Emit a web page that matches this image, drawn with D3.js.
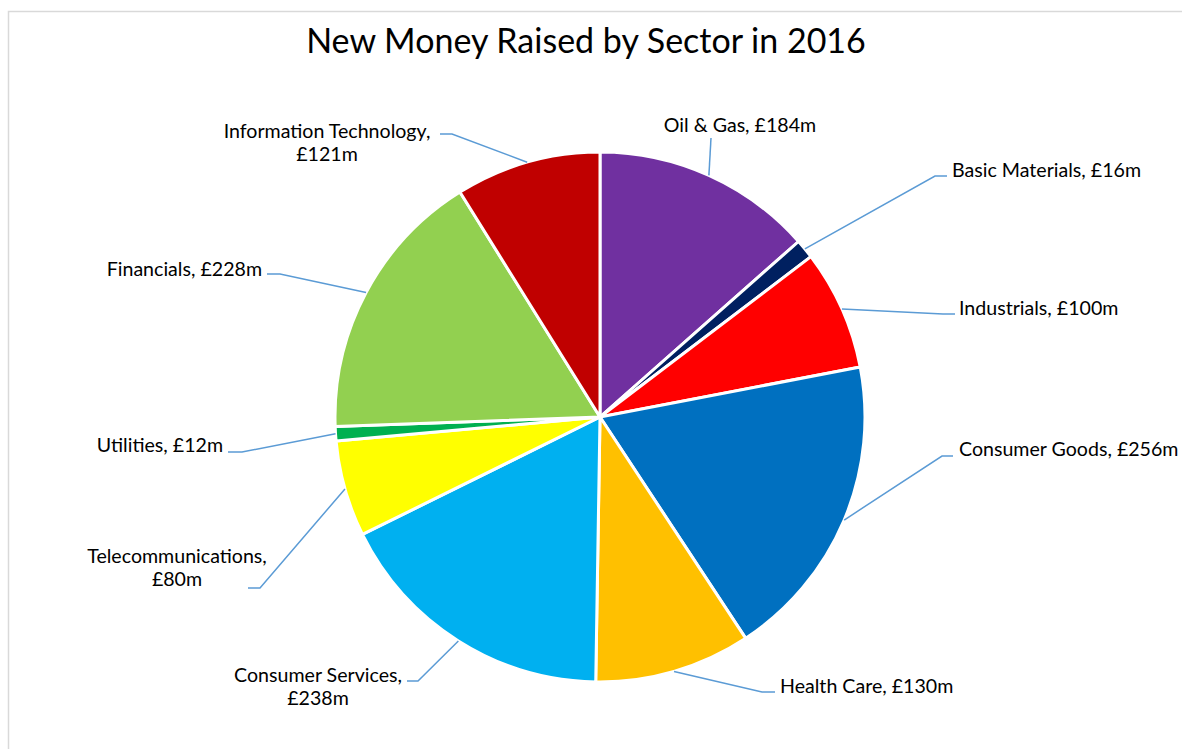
<!DOCTYPE html>
<html>
<head>
<meta charset="utf-8">
<script src="https://cdn.jsdelivr.net/npm/d3@7"></script>
<style>
  body { margin: 0; background: #fff; }
  text { font-family: Lato, "Open Sans", sans-serif; fill: #000; }
</style>
</head>
<body>
<div id="chart"></div>
<script>
// Données : secteurs, montants (en millions de livres), couleurs
const sectors = ["Oil & Gas", "Basic Materials", "Industrials", "Consumer Goods", "Health Care",
  "Consumer Services", "Telecommunications", "Utilities", "Financials", "Information Technology"];
const values = [184, 16, 100, 256, 130, 238, 80, 12, 228, 121];
const colors = ["#7030A0", "#002060", "#FF0000", "#0070C0", "#FFC000",
  "#00B0F0", "#FFFF00", "#00B050", "#92D050", "#C00000"];

// Dimensions
const width = 1182, height = 749
const cx = 600, cy = 417, radius = 265

// Placement des étiquettes (décalages par rapport au centre du camembert)
// tx,ty : texte ; ex,ey : coude de la ligne ; lx,ly : bout de la ligne ; wrap : texte sur 2 lignes
const labelLayout = [
  {tx: 140, ty: -285, anchor: "middle", ex: 111, ey: -279, lx: 111, ly: -279, wrap: false},
  {tx: 352, ty: -240, anchor: "start", ex: 335, ey: -241, lx: 347, ly: -241, wrap: false},
  {tx: 359, ty: -102, anchor: "start", ex: 343, ey: -103, lx: 355, ly: -103, wrap: false},
  {tx: 359, ty: 39, anchor: "start", ex: 342, ey: 39, lx: 353, ly: 39, wrap: false},
  {tx: 180, ty: 276, anchor: "start", ex: 162, ey: 275, lx: 175, ly: 275, wrap: false},
  {tx: -282, ty: 265, anchor: "middle", ex: -182, ey: 264, lx: -193, ly: 264, wrap: true},
  {tx: -423, ty: 146, anchor: "middle", ex: -340, ey: 171, lx: -352, ly: 171, wrap: true},
  {tx: -377, ty: 35, anchor: "end", ex: -358, ey: 35, lx: -372, ly: 35, wrap: false},
  {tx: -338, ty: -141, anchor: "end", ex: -320, ey: -143, lx: -333, ly: -143, wrap: false},
  {tx: -273, ty: -279, anchor: "middle", ex: -148, ey: -283, lx: -160, ly: -283, wrap: true}
]

const data = sectors.map((s, i) => ({sector: s, value: values[i], color: colors[i], lab: labelLayout[i]}))

const svg = d3.select("#chart")
  .append("svg")
    .attr("width", width)
    .attr("height", height)

// Cadre gris du graphique (coupé à droite et en bas)
svg.append("rect")
  .attr("x", 8.5)
  .attr("y", 11.5)
  .attr("width", width + 20)
  .attr("height", height + 20)
  .attr("fill", "none")
  .attr("stroke", "#d9d9d9")
  .attr("stroke-width", 1.5)

// Titre
svg.append("text")
  .attr("x", 586)
  .attr("y", 53)
  .attr("text-anchor", "middle")
  .style("font-size", "34px")
  .text("New Money Raised by Sector in 2016")

const pie = d3.pie()
  .sort(null)
  .value(d => d.value)

const arc = d3.arc()
  .innerRadius(0)
  .outerRadius(radius)

// point sur le bord de la part, à l'angle médian
const edge = d3.arc()
  .innerRadius(radius)
  .outerRadius(radius)

const g = svg.append("g")
  .attr("transform", `translate(${cx},${cy})`)

const arcs = pie(data)

// Parts
g.selectAll("path.slice")
  .data(arcs)
  .join("path")
    .attr("class", "slice")
    .attr("d", arc)
    .attr("fill", d => d.data.color)
    .attr("stroke", "#fff")
    .attr("stroke-width", 3)
    .attr("stroke-linejoin", "round")

// Lignes de rappel
g.selectAll("polyline.leader")
  .data(arcs)
  .join("polyline")
    .attr("class", "leader")
    .attr("points", d => {
      const p = edge.centroid(d)
      const l = d.data.lab
      return [p, [l.ex, l.ey], [l.lx, l.ly]].map(q => q.join(",")).join(" ")
    })
    .attr("fill", "none")
    .attr("stroke", "#5B9BD5")
    .attr("stroke-width", 1.5)

// Étiquettes
const labels = g.selectAll("text.label")
  .data(arcs)
  .join("text")
    .attr("class", "label")
    .attr("x", d => d.data.lab.tx)
    .attr("y", d => d.data.lab.ty)
    .attr("text-anchor", d => d.data.lab.anchor)
    .style("font-size", "19.6px")

labels.each(function(d) {
  const t = d3.select(this)
  const first = d.data.sector + ","
  const second = "£" + d.data.value + "m"
  if (d.data.lab.wrap) {
    t.append("tspan").attr("x", d.data.lab.tx).text(first)
    t.append("tspan").attr("x", d.data.lab.tx).attr("dy", 23).text(second)
  } else {
    t.text(first + " " + second)
  }
})
</script>
</body>
</html>
